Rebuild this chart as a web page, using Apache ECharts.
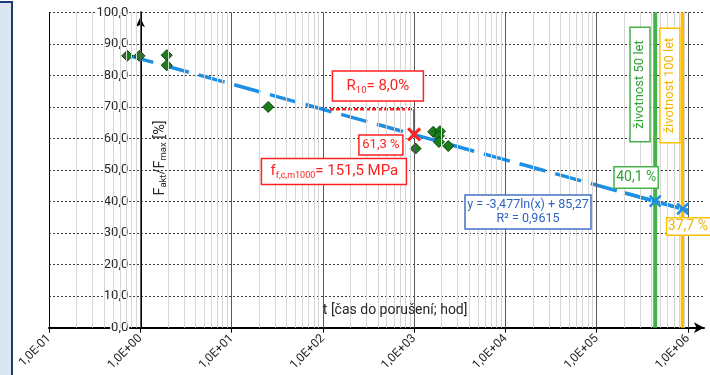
<!DOCTYPE html>
<html><head><meta charset="utf-8">
<script src="https://cdn.jsdelivr.net/npm/echarts@6/dist/echarts.min.js"></script>
<style>html,body{margin:0;padding:0;background:#fff}#c{width:710px;height:375px}</style>
</head><body><div id="c"></div>
<script>
// ---- data ----
const measuredT = [0.72, 0.98, 1.95, 1.95, 25.2, 1038, 1618, 1918, 1870, 1870, 2366];
const measuredF = [86.2, 86.2, 86.4, 83.2, 70.0, 56.8, 62.1, 62.3, 60.8, 58.9, 57.6];
const trendT = [0.72, 1000000];
const trendF = [86.4, 37.2];
const trendSolidT = [200000, 1000000];
const trendSolidF = [42.8, 37.2];
const lifeT = [438000, 876000];      // 50 / 100 years in hours
const lifeF = [40.1, 37.7];
const refT = [1000];
const refF = [61.3];
const r10Level = [69.3];
const r10StartT = [120];
const xTicks = [0.1, 1, 10, 100, 1000, 10000, 100000, 1000000];
const xTickLabels = ['1,0E-01','1,0E+00','1,0E+01','1,0E+02','1,0E+03','1,0E+04','1,0E+05','1,0E+06'];
const yTicks = [0,10,20,30,40,50,60,70,80,90,100];
const yTickLabels = ['0,0','10,0','20,0','30,0','40,0','50,0','60,0','70,0','80,0','90,0','100,0'];

const xMin = 0.1, xMax = 1500000;
const FONT = 'Roboto, "DejaVu Sans", sans-serif';
const BLUE = '#1d8fe4', RED = '#ff2020', GREEN = '#46b348', ORANGE = '#ffc000';
const XPATH = 'path://M0,0L10,10M10,0L0,10';

const minorVals = [];
xTicks.forEach(d => { for (let m = 2; m <= 9; m++) { const v = m * d; if (v < xMax) minorVals.push(v); } });

const chart = echarts.init(document.getElementById('c'), null, {renderer: 'canvas'});
const option = {
  animation: false,
  textStyle: {fontFamily: FONT},
  grid: {left: 49, top: 12.3, width: 655, height: 315.4},
  xAxis: {
    type: 'log', logBase: 10, min: xMin, max: xMax,
    axisLine: {show: true, onZero: false, lineStyle: {color: '#000', width: 2},
      symbol: ['none', 'arrow'], symbolSize: [8, 10]},
    axisTick: {show: true, customValues: xTicks, length: 5, lineStyle: {color: '#000', width: 1}},
    axisLabel: {customValues: xTicks, rotate: 45, margin: 9, fontSize: 12, color: '#262626', fontFamily: FONT,
      formatter: v => xTickLabels[Math.round(Math.log10(v)) + 1] || ''},
    splitLine: {show: false}
  },
  yAxis: {
    type: 'value', min: 0, max: 100, interval: 10, offset: -91.27,
    axisLine: {show: true, onZero: false, lineStyle: {color: '#000', width: 2},
      symbol: ['none', 'arrow'], symbolSize: [7, 10], symbolOffset: [0, -5]},
    axisTick: {show: false},
    axisLabel: {margin: 11, fontSize: 13, color: '#262626', fontFamily: FONT, backgroundColor: '#fff', padding: [0, 1],
      formatter: v => yTickLabels[yTicks.indexOf(v)]},
    splitLine: {show: true, lineStyle: {color: '#3a3a3a', width: 1, type: [2, 2]}}
  },
  series: [
    {type: 'line', data: [], silent: true, z: -1,
      markLine: {silent: true, symbol: ['none', 'none'], label: {show: false}, animation: false,
        emphasis: {disabled: true},
        data: minorVals.map(v => ({xAxis: v, lineStyle: {color: '#d6d6d6', width: 1, type: 'solid'}}))
          .concat(xTicks.map(v => ({xAxis: v, lineStyle: {color: v === xMin ? '#000' : '#5a5a5a', width: 1, type: 'solid'}})))}
    },
    {type: 'line', data: trendT.map((t, i) => [t, trendF[i]]), symbol: 'none', z: 3, silent: true,
      lineStyle: {color: BLUE, width: 3.5, type: [27, 10], cap: 'butt'}},
    {type: 'line', data: trendSolidT.map((t, i) => [t, trendSolidF[i]]), symbol: 'none', z: 3, silent: true,
      lineStyle: {color: BLUE, width: 3.5}},
    {type: 'line', data: [[lifeT[0], 0], [lifeT[0], 100]], symbol: 'none', z: 2, silent: true,
      lineStyle: {color: GREEN, width: 4}},
    {type: 'line', data: [[lifeT[1], 0], [lifeT[1], 100]], symbol: 'none', z: 2, silent: true,
      lineStyle: {color: ORANGE, width: 4}},
    {type: 'line', data: [[r10StartT[0], r10Level[0]], [refT[0], r10Level[0]]], symbol: 'none', z: 3, silent: true,
      lineStyle: {color: RED, width: 2.5, type: [4, 2]}},
    {type: 'line', data: [[refT[0], r10Level[0]], [refT[0], refF[0]]], symbol: 'none', z: 3, silent: true,
      lineStyle: {color: RED, width: 2}},
    {type: 'scatter', data: measuredT.map((t, i) => [t, measuredF[i]]), symbol: 'diamond', symbolSize: [11, 11], z: 4,
      itemStyle: {color: '#1b7d1b', borderColor: '#0a3f0a', borderWidth: 1, opacity: 1}},
    {type: 'scatter', data: lifeT.map((t, i) => [t, lifeF[i]]), symbol: XPATH, symbolSize: 11, z: 5,
      itemStyle: {color: 'none', borderColor: BLUE, borderWidth: 2.5, opacity: 1}},
    {type: 'scatter', data: refT.map((t, i) => [t, refF[i]]), symbol: XPATH, symbolSize: 12, z: 5,
      itemStyle: {color: 'none', borderColor: RED, borderWidth: 3, opacity: 1}}
  ]
};
chart.setOption(option);

const P = (x, y) => chart.convertToPixel({seriesIndex: 1}, [x, y]);
function rect(x, y, w, h, stroke) {
  return {type: 'rect', z: 20, silent: true, shape: {x, y, width: w, height: h}, style: {fill: '#fff', stroke, lineWidth: 1.5}};
}
function text(x, y, str, fill, size, extra) {
  const st = Object.assign({text: str, x: 0, y: 0, fill, fontSize: size, fontFamily: FONT,
    align: 'center', verticalAlign: 'middle', textAlign: 'center', textVerticalAlign: 'middle'}, extra || {});
  return {type: 'text', z: 21, silent: true, x, y, style: st};
}
const A = P(refT[0], r10Level[0]);
const B = P(refT[0], refF[0]);
const G = P(lifeT[0], lifeF[0]);
const O = P(lifeT[1], lifeF[1]);
const Gt = P(lifeT[0], 100);
const Ot = P(lifeT[1], 100);
const Y1 = P(1, 53.8);
const XN = P(100, 5.5);

const graphics = [
  {type: 'rect', z: 30, silent: true, shape: {x: -10, y: 2, width: 22, height: 400}, style: {fill: '#dce6f2', stroke: '#1c3a78', lineWidth: 2}},
  // R10
  rect(A[0] - 81.7, A[1] - 38.1, 91, 30, RED),
  text(A[0] - 36.2, A[1] - 23, '{a|R}{s|10}{a|= 8,0%}', RED, 15,
    {rich: {a: {fontSize: 15, fill: RED, fontFamily: FONT}, s: {fontSize: 9.5, fill: RED, fontFamily: FONT, padding: [8, 0, 0, 0]}}}),
  // 61,3 %
  rect(B[0] - 55.2, B[1] + 0.6, 44, 20, RED),
  text(B[0] - 33.2, B[1] + 10.6, '61,3 %', RED, 13),
  // f
  rect(B[0] - 152.7, B[1] + 24.1, 145, 26, RED),
  text(B[0] - 79.7, B[1] + 37.1, '{a|f}{s|f,c,m1000}{a|= 151,5 MPa}', RED, 15,
    {rich: {a: {fontSize: 15, fill: RED, fontFamily: FONT}, s: {fontSize: 9, fill: RED, fontFamily: FONT, padding: [8, 0, 0, 0]}}}),
  // equation
  rect(G[0] - 190.2, G[1] - 6.2, 126, 34, '#4472c4'),
  text(G[0] - 127.2, G[1] + 10.8, 'y = -3,477ln(x) + 85,27\nR² = 0,9615', '#2f63c0', 12.5, {lineHeight: 14.5}),
  // 50 years
  rect(Gt[0] - 25.2, Gt[1] + 15, 20, 114.4, GREEN),
  Object.assign(text(Gt[0] - 15.2, Gt[1] + 72.2, 'životnost 50 let', '#2ea234', 13), {rotation: Math.PI / 2}),
  rect(G[0] - 41.2, G[1] - 34.5, 44.3, 21.6, GREEN),
  text(G[0] - 19, G[1] - 23.7, '40,1 %', '#2ea234', 14),
  // 100 years
  rect(Ot[0] - 22.8, Ot[1] + 16, 20, 114.4, ORANGE),
  Object.assign(text(Ot[0] - 12.8, Ot[1] + 73.2, 'životnost 100 let', '#f2b400', 13), {rotation: Math.PI / 2}),
  rect(O[0] - 16.1, O[1] + 8.9, 50, 17.5, ORANGE),
  text(O[0] + 5.2, O[1] + 17.7, '37,7 %', '#f2b400', 14),
  // axis names
  Object.assign(text(Y1[0] + 20, Y1[1], '{a|F}{s|akt}{a|/F}{s|max}{a| [%]}', '#262626', 14,
    {rich: {a: {fontSize: 14.5, fill: '#262626', fontFamily: FONT}, s: {fontSize: 9.5, fill: '#262626', fontFamily: FONT, padding: [7, 0, 0, 0]}}}),
    {rotation: Math.PI / 2}),
  text(XN[0], XN[1], 't [čas do porušení; hod]', '#262626', 14, {align: 'left', textAlign: 'left'})
];
chart.setOption({graphic: {elements: graphics}});
</script>
</body></html>
